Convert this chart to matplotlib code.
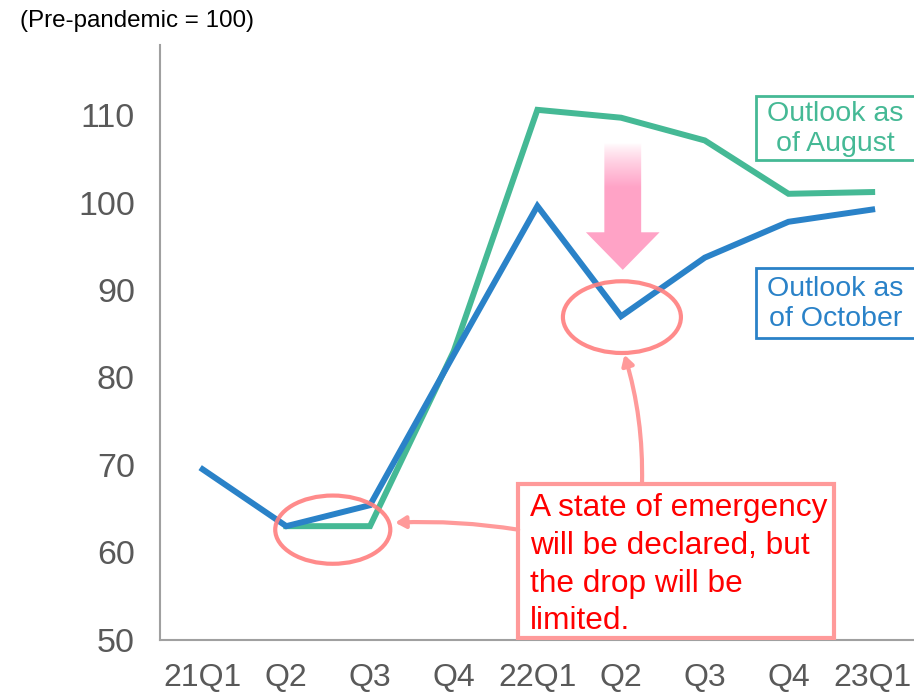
import matplotlib.pyplot as plt
import numpy as np
from matplotlib.patches import Ellipse, Polygon, Rectangle

plt.rcParams['font.family'] = ['Liberation Sans', 'DejaVu Sans']

quarters = ['21Q1', 'Q2', 'Q3', 'Q4', '22Q1', 'Q2', 'Q3', 'Q4', '23Q1']
august = [np.nan, 63.0, 63.0, 83.0, 110.6, 109.7, 107.1, 101.0, 101.2]
october = [69.5, 63.0, 65.4, 82.6, 99.6, 87.0, 93.7, 97.8, 99.2]
yticks = [50, 60, 70, 80, 90, 100, 110]

GREEN = '#45B995'
BLUE = '#2A82C8'
GRAY = '#595959'
RED_SOFT = '#FF7F7F'

fig = plt.figure(figsize=(9.14, 6.94), dpi=100)
ax = fig.add_axes([0.175, 0.078, 0.825, 0.857])

x = np.arange(len(quarters))
ax.plot(x, august, color=GREEN, lw=4.3, solid_joinstyle='miter', zorder=3)
ax.plot(x, october, color=BLUE, lw=4.3, solid_joinstyle='miter', zorder=4)

ax.set_xlim(-0.51, 8.5)
ax.set_ylim(50, 118)
ax.set_xticks(x)
ax.set_xticklabels(quarters)
ax.set_yticks(yticks)
ax.tick_params(axis='x', length=0, labelsize=23, labelcolor=GRAY, pad=17)
ax.tick_params(axis='y', length=0, labelsize=24.5, labelcolor=GRAY, pad=18)
for side in ['top', 'right']:
    ax.spines[side].set_visible(False)
for side in ['left', 'bottom']:
    ax.spines[side].set_color('#A0A0A0')
    ax.spines[side].set_linewidth(1.5)

fig.text(20 / 914, 1 - 21 / 694, '(Pre-pandemic = 100)', fontsize=17.4,
         va='center', ha='left', color='black')

# series labels
for label, color, y0, y1, yc in [('Outlook as\nof August', GREEN, 104.86, 112.17, 108.4),
                                  ('Outlook as\nof October', BLUE, 84.5, 92.5, 88.4)]:
    ax.add_patch(Rectangle((6.61, y0), 2.0, y1 - y0, fc='white', ec=color,
                           lw=2, clip_on=False, zorder=6))
    ax.text(7.56, yc, label, color=color, fontsize=20.5, ha='center',
            va='center', linespacing=1.2, zorder=7)

# highlight rings
for cx, cy, w, h in [(1.555, 62.6, 1.375, 7.8), (5.01, 86.9, 1.41, 8.2)]:
    ax.add_patch(Ellipse((cx, cy), w, h, fill=False, ec=RED_SOFT,
                         lw=3, alpha=0.9, zorder=5))

# downward arrow with a fade at the top
arrow_pts = [(4.80, 106.8), (5.24, 106.8), (5.24, 96.6), (5.46, 96.6),
             (5.02, 92.3), (4.58, 96.6), (4.80, 96.6)]
arrow = Polygon(arrow_pts, closed=True, fc='none', ec='none', zorder=2)
ax.add_patch(arrow)
t = np.linspace(0, 1, 256)
fade = np.clip(t / 0.35, 0, 1) ** 0.8
pink = np.array([1.0, 0.64, 0.78])
grad = np.ones((256, 1, 3)) * (1 - fade[:, None, None]) + pink * fade[:, None, None]
im = ax.imshow(grad, extent=(4.58, 5.46, 92.3, 106.8), origin='upper',
               aspect='auto', zorder=2)
im.set_clip_path(arrow)

# callout box
ax.add_patch(Rectangle((3.77, 50.25), 3.77, 17.6, fc='white', ec='#FF9A9A',
                       lw=3, zorder=6))
ax.text(3.91, 66.8, 'A state of emergency\nwill be declared, but\nthe drop will be\nlimited.',
        color='#FF0000', fontsize=22.8, ha='left', va='top', linespacing=1.34,
        zorder=7)

arrow_style = dict(arrowstyle='-|>,head_length=0.6,head_width=0.35',
                   color='#FF9A9A', lw=3, shrinkA=0, shrinkB=0)
ax.annotate('', xy=(2.30, 63.4), xytext=(3.77, 62.6),
            arrowprops=dict(connectionstyle='arc3,rad=0.05', **arrow_style),
            zorder=6)
ax.annotate('', xy=(5.04, 82.6), xytext=(5.25, 67.85),
            arrowprops=dict(connectionstyle='arc3,rad=0.08', **arrow_style),
            zorder=6)

fig.savefig('out.png', dpi=100)
